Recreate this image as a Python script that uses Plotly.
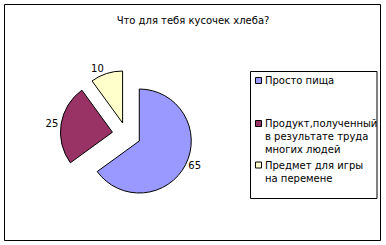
import plotly.graph_objects as go

# Survey answers: "What is a piece of bread for you?"
categories = [
    "Просто пища",
    "Продукт,полученный<br>в результате труда<br>многих людей",
    "Предмет для игры<br>на перемене",
]
values = [65, 25, 10]
colors = ["#9999FF", "#993366", "#FFFFCC"]
pulls = [0.28, 0.27, 0.23]
title_text = "Что для тебя кусочек хлеба?"

W, H = 386, 245
FONT = "DejaVu Sans"


def px(x):
    return x / W


def py(y):
    return 1 - y / H


# Pie placement (pixels): unpulled centre and radius of the disc
cx, cy, r = 126.3, 134.4, 52.0
half = r * (1 + max(pulls))

fig = go.Figure(
    go.Pie(
        labels=[c.replace("<br>", " ") for c in categories],
        values=values,
        marker=dict(colors=colors, line=dict(color="black", width=1)),
        pull=pulls,
        sort=False,
        direction="clockwise",
        rotation=0,
        textinfo="value",
        textposition="outside",
        textfont=dict(family=FONT, size=10, color="black"),
        domain=dict(x=[px(cx - half), px(cx + half)],
                    y=[py(cy + half), py(cy - half)]),
        showlegend=False,
        hoverinfo="label+value",
    )
)

shapes = [
    # outer frame
    dict(type="rect", xref="paper", yref="paper",
         x0=px(4.5), x1=px(380.5), y0=py(240.5), y1=py(4.5),
         line=dict(color="black", width=1), fillcolor="rgba(0,0,0,0)"),
    # legend frame
    dict(type="rect", xref="paper", yref="paper",
         x0=px(250.5), x1=px(377), y0=py(198.5), y1=py(71.5),
         line=dict(color="black", width=1), fillcolor="white"),
]
annotations = []

# legend entries: first-line centre of each entry (pixels)
entry_y = [80.5, 123.5, 165]
for label, color, ey in zip(categories, colors, entry_y):
    shapes.append(dict(type="rect", xref="paper", yref="paper",
                       x0=px(255.5), x1=px(261.5), y0=py(ey + 3), y1=py(ey - 3),
                       line=dict(color="black", width=1), fillcolor=color))
    annotations.append(dict(text=label, xref="paper", yref="paper",
                            x=px(262.5), y=py(ey - 7.5), xanchor="left", yanchor="top",
                            align="left", showarrow=False,
                            font=dict(family=FONT, size=10, color="black")))

fig.update_layout(
    width=W, height=H,
    margin=dict(l=0, r=0, t=0, b=0),
    paper_bgcolor="white",
    plot_bgcolor="white",
    title=dict(text=title_text, x=0.5, xanchor="center", xref="paper",
               y=py(20.5), yanchor="middle", yref="paper",
               font=dict(family=FONT, size=10, color="black")),
    shapes=shapes,
    annotations=annotations,
)

fig.write_html("out.html")
